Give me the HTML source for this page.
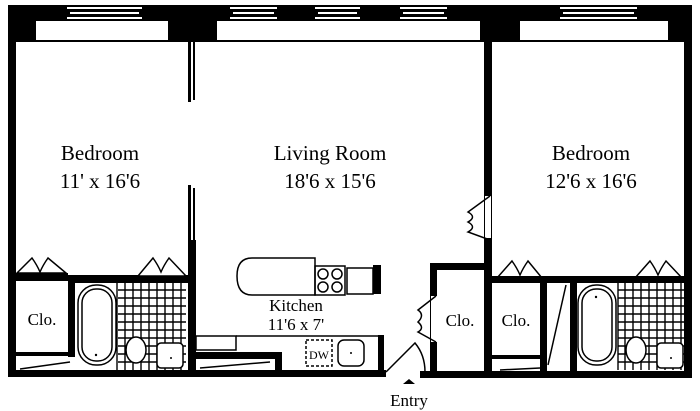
<!DOCTYPE html>
<html><head><style>
body{margin:0;background:#fff}
svg{display:block}
text{font-family:"Liberation Serif",serif;fill:#000}
</style></head><body>
<svg width="700" height="411" viewBox="0 0 700 411" xmlns="http://www.w3.org/2000/svg">
<rect width="700" height="411" fill="#fff"/>
<rect x="8" y="5" width="684" height="37" fill="#000"/>
<rect x="36" y="21" width="132" height="19" fill="#fff"/>
<rect x="217" y="21" width="263" height="19" fill="#fff"/>
<rect x="520" y="21" width="148" height="19" fill="#fff"/>
<g fill="#fff">
<rect x="67" y="7" width="75" height="2"/><rect x="70" y="12" width="69" height="2"/><rect x="67" y="17" width="75" height="2"/>
<rect x="230" y="7" width="47" height="2"/><rect x="233" y="12" width="41" height="2"/><rect x="230" y="17" width="47" height="2"/>
<rect x="315" y="7" width="45" height="2"/><rect x="318" y="12" width="39" height="2"/><rect x="315" y="17" width="45" height="2"/>
<rect x="400" y="7" width="47" height="2"/><rect x="403" y="12" width="41" height="2"/><rect x="400" y="17" width="47" height="2"/>
<rect x="560" y="7" width="77" height="2"/><rect x="563" y="12" width="71" height="2"/><rect x="560" y="17" width="77" height="2"/>
</g>
<rect x="16" y="42" width="172" height="220" fill="#fff"/>
<rect x="196" y="42" width="288" height="330" fill="#fff"/>
<rect x="492" y="42" width="192" height="236" fill="#fff"/>
<rect x="8" y="40" width="8" height="336" fill="#000"/>
<rect x="684" y="40" width="8" height="338" fill="#000"/>
<rect x="8" y="370" width="378" height="7" fill="#000"/>
<rect x="420" y="371" width="272" height="7" fill="#000"/>
<rect x="188" y="42" width="3" height="60" fill="#000"/><rect x="193" y="42" width="2" height="58" fill="#000"/>
<rect x="188" y="185" width="3" height="70" fill="#000"/><rect x="193" y="188" width="2" height="70" fill="#000"/>
<rect x="188" y="240" width="8" height="135" fill="#000"/>
<rect x="15" y="273" width="53" height="8" fill="#000"/>
<rect x="68" y="275" width="122" height="8" fill="#000"/>
<rect x="68" y="275" width="7" height="82" fill="#000"/>
<rect x="15" y="352" width="58" height="4" fill="#000"/>
<g fill="#fff" stroke="#000" stroke-width="1.5">
<path d="M17 273 L32 258 Q37 265 40 272 Q43 265 48 258 L66 273 Z"/>
<path d="M138 276 L153 258 Q158 265 161 272 Q164 265 169 258 L186 276 Z"/>
<path d="M497 278 L512 261 Q517 268 520 275 Q523 268 528 261 L542 278 Z"/>
<path d="M635 278 L650 261 Q655 268 658 275 Q661 268 666 261 L682 278 Z"/>
</g>
<g stroke="#000" stroke-width="1.4">
<path d="M117 283 V370 M118 290 H186 M118 298 H186 M118 306 H186 M118 314 H186 M118 322 H186 M118 330 H186 M118 338 H186 M118 346 H186 M118 354 H186 M118 362 H186 M125 283V370 M133 283V370 M141 283V370 M149 283V370 M157 283V370 M165 283V370 M173 283V370 M181 283V370"/>
<path d="M618 283 V370 M618 290 H684 M618 298 H684 M618 306 H684 M618 314 H684 M618 322 H684 M618 330 H684 M618 338 H684 M618 346 H684 M618 354 H684 M618 362 H684 M625 283V370 M633 283V370 M641 283V370 M649 283V370 M657 283V370 M665 283V370 M673 283V370 M681 283V370"/>
</g>
<g fill="#fff" stroke="#000" stroke-width="1.5">
<path d="M20 369 L70 362"/>
<rect x="78" y="285" width="38" height="80" rx="18"/>
<rect x="82" y="289" width="30" height="72" rx="14"/>
<ellipse cx="136" cy="350" rx="10" ry="13"/>
<rect x="157" y="343" width="26" height="25" rx="4"/>
<rect x="578" y="285" width="38" height="80" rx="18"/>
<rect x="582" y="289" width="30" height="72" rx="14"/>
<ellipse cx="636" cy="350" rx="10" ry="13"/>
<rect x="657" y="343" width="26" height="25" rx="4"/>
<path d="M548 365 L566 285" fill="none"/>
<path d="M500 370 L540 368" fill="none"/>
<path d="M200 368 L270 362" fill="none"/>
</g>
<g fill="none" stroke="#000" stroke-width="1.5">
<path d="M315 258 H252 Q237 258 237 276 Q237 295 252 295 H315 Z"/>
<rect x="315" y="266" width="30" height="29"/>
<circle cx="323" cy="274" r="5"/><circle cx="337" cy="274" r="5"/><circle cx="323" cy="287" r="5"/><circle cx="337" cy="287" r="5"/>
<rect x="347" y="268" width="26" height="26"/>
<rect x="196" y="336" width="40" height="14"/>
<path d="M236 336 H378"/>
<rect x="306" y="340" width="26" height="26" stroke-dasharray="3,2"/>
<rect x="338" y="340" width="26" height="26" rx="6"/>
<path d="M386 372 L415 343 Q425 355 425 372"/>
</g>
<rect x="373" y="265" width="8" height="29" fill="#000"/>
<rect x="378" y="335" width="6" height="40" fill="#000"/>
<rect x="196" y="352" width="85" height="7" fill="#000"/>
<rect x="275" y="352" width="7" height="22" fill="#000"/>
<circle cx="171" cy="358" r="1" fill="#000"/><circle cx="351" cy="353" r="1" fill="#000"/><circle cx="96" cy="355" r="1.2" fill="#000"/><circle cx="596" cy="297" r="1.2" fill="#000"/><circle cx="671" cy="358" r="1" fill="#000"/>
<rect x="430" y="263" width="7" height="110" fill="#000"/>
<rect x="430" y="263" width="56" height="7" fill="#000"/>
<rect x="431" y="296" width="6" height="46" fill="#fff"/>
<path d="M436 296 L418 310 Q425 315 418 322 Q425 328 418 332 L436 342" fill="none" stroke="#000" stroke-width="1.5"/>
<rect x="484" y="42" width="8" height="336" fill="#000"/>
<rect x="485" y="196" width="6" height="42" fill="#fff"/>
<path d="M490 196 L468 212 Q477 217 468 222 Q477 227 468 232 L490 240" fill="none" stroke="#000" stroke-width="1.5"/>
<rect x="492" y="276" width="192" height="7" fill="#000"/>
<rect x="540" y="276" width="7" height="100" fill="#000"/>
<rect x="570" y="276" width="7" height="100" fill="#000"/>
<rect x="492" y="355" width="50" height="4" fill="#000"/>
<path d="M403 384 L409 379 L415 384 Z" fill="#000"/>
<g font-size="21" text-anchor="middle">
<text x="100" y="160">Bedroom</text><text x="100" y="188">11' x 16'6</text>
<text x="330" y="160">Living Room</text><text x="330" y="188">18'6 x 15'6</text>
<text x="591" y="160">Bedroom</text><text x="591" y="188">12'6 x 16'6</text>
</g>
<g font-size="17" text-anchor="middle">
<text x="42" y="325">Clo.</text><text x="460" y="326">Clo.</text><text x="516" y="326">Clo.</text>
<text x="296" y="311">Kitchen</text><text x="296" y="330">11'6 x 7'</text>
<text x="409" y="406">Entry</text>
</g>
<text x="319" y="359" font-size="12" text-anchor="middle">DW</text>
</svg>
</body></html>
